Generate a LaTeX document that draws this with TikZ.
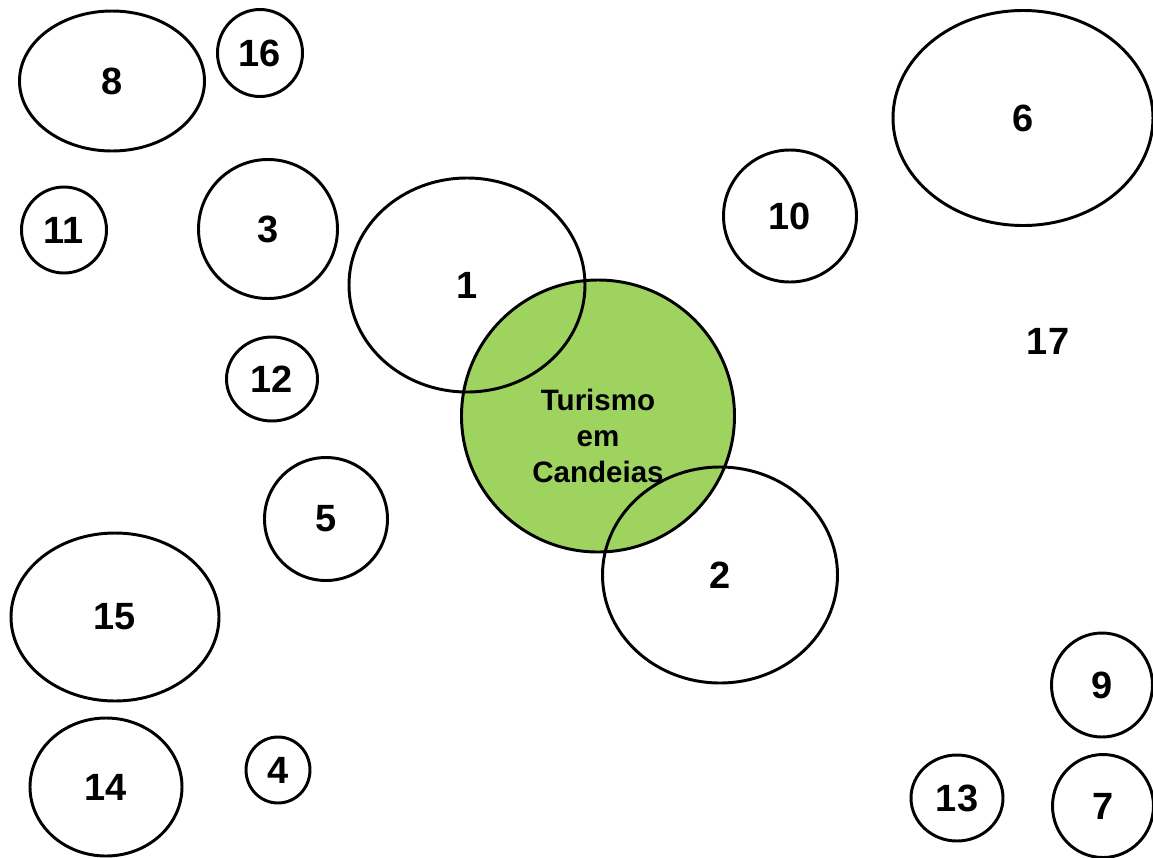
\documentclass[tikz,border=0pt]{standalone}
\usepackage{fontspec}
\setmainfont{Liberation Sans}
\usetikzlibrary{shapes.geometric}
\definecolor{turgreen}{RGB}{159,211,95}

\begin{document}
\begin{tikzpicture}[
  x=0.025cm, y=-0.025cm,
  blob/.style={draw, ellipse, line width=2.1pt, inner sep=0pt,
    font=\bfseries\fontsize{27}{30}\selectfont},
  core/.style={blob, fill=turgreen},
  coretext/.style={align=center, font=\bfseries\fontsize{21}{25.3}\selectfont},
]
\useasboundingbox (0,0) rectangle (1153,857);

\node (core) [core, minimum width=273*0.025cm, minimum height=272*0.025cm]
  at (598,416) {};
\node (turismo) [coretext] at ([yshift=-0.5cm]core.center) {Turismo\\em\\Candeias};

\foreach \n/\x/\y/\w/\h in {
  1/467/285/236/214, 2/720/575/235/216, 3/268/229/139/139,
  4/278/770/64/66, 5/326/519/123/123, 6/1023/118/260/215,
  7/1103/806/101/103, 8/112/81/185/140, 9/1102/685/101/104,
  10/790/216/133/132, 11/64/230/85/86, 12/272/379/91/84,
  13/957/798/92/86, 14/106/787/152/138, 15/115/617/208/168,
  16/260/53/85/87} {
  \node (e\n) [blob, minimum width=\w*0.025cm, minimum height=\h*0.025cm]
    at (\x,\y) {\n};
}
\node (e17) [font=\bfseries\fontsize{27}{30}\selectfont] at (1048,341) {17};

\end{tikzpicture}
\end{document}
